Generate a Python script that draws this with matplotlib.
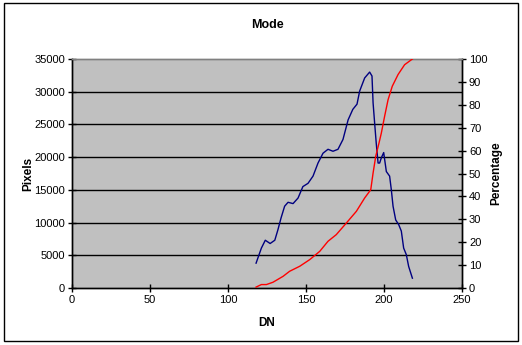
import matplotlib
matplotlib.use("Agg")
import matplotlib.pyplot as plt
from matplotlib.patches import Rectangle

plt.rcParams["font.family"] = ["Liberation Sans", "DejaVu Sans"]

# Pixel count histogram (left axis)
dn_pix = [118, 121.4, 123.9, 127, 130, 132, 134, 136.3, 138.5, 141.7, 144.9, 148,
          151.3, 154.5, 157.7, 160.9, 164.1, 167.3, 170.5, 173.7, 177, 180, 182.7,
          184.4, 187.6, 190.8, 192.3, 193, 194, 195, 196.2, 197.2, 198.3, 199.8,
          201.5, 203.6, 204.7, 205.8, 207.5, 209.4, 211.1, 212.6, 214.3, 215.8, 218.2]
pixels = [3800, 6100, 7300, 6800, 7300, 8900, 10700, 12500, 13100, 12900, 13750, 15500,
          16000, 17100, 19100, 20600, 21200, 20900, 21200, 22700, 25700, 27300, 28100,
          30100, 32100, 33000, 32400, 28300, 25200, 22200, 19100, 19100, 19900, 20700,
          17800, 17100, 15000, 12500, 10400, 9700, 8700, 6100, 5100, 3300, 1500]

# Cumulative percentage (right axis)
dn_cum = [118, 121.4, 124.6, 128.8, 135.3, 139.5, 146, 152.4, 158.8, 164.1, 169.4,
          175.9, 182.3, 187.6, 191.5, 193, 194.7, 196.8, 198.3, 200.4, 202.6, 205.3,
          209, 213.2, 218.2]
percent = [0.4, 1.5, 1.5, 2.5, 5.1, 7.3, 9.5, 12.4, 16, 20.4, 23.3, 28.4, 33.5, 39.3,
           42.9, 50.2, 57.5, 63.3, 67.7, 75, 82.2, 88.1, 93.2, 97.5, 100]

fig = plt.figure(figsize=(5.22, 3.45), dpi=100)
fig.patch.set_facecolor("white")
fig.patches.append(Rectangle((4 / 522, 4 / 345), 514 / 522, 338 / 345, transform=fig.transFigure,
                             fill=False, edgecolor="black", linewidth=1.0))

ax = fig.add_axes([72 / 522, 1 - 288 / 345, 390 / 522, 229 / 345])
ax.set_facecolor("#c0c0c0")
ax.set_xlim(0, 250)
ax.set_ylim(0, 35000)
ax.set_xticks(range(0, 251, 50))
ax.set_yticks(range(0, 35001, 5000))
for y in range(5000, 35000, 5000):
    ax.axhline(y, color="black", linewidth=1.0, zorder=1)
ax.plot(dn_pix, pixels, color="#000080", linewidth=1.0, zorder=3)

ax2 = ax.twinx()
ax2.set_ylim(0, 100)
ax2.set_yticks(range(0, 101, 10))
ax2.plot(dn_cum, percent, color="#ff0000", linewidth=1.0, zorder=3)

for a in (ax, ax2):
    for s in ("left", "bottom", "right"):
        a.spines[s].set_color("black")
        a.spines[s].set_linewidth(1.0)
    a.spines["top"].set_color("#808080")
    a.spines["top"].set_linewidth(1.0)
    a.tick_params(direction="inout", length=6, width=1, labelsize=8, pad=2)

ax.set_title("Mode", fontsize=9, fontweight="bold", pad=22)
ax.set_xlabel("DN", fontsize=8.5, fontweight="bold", labelpad=9)
ax.set_ylabel("Pixels", fontsize=8.5, fontweight="bold", labelpad=0)
ax2.set_ylabel("Percentage", fontsize=8.5, fontweight="bold", labelpad=2)

fig.savefig("out.png", dpi=100, facecolor="white")
